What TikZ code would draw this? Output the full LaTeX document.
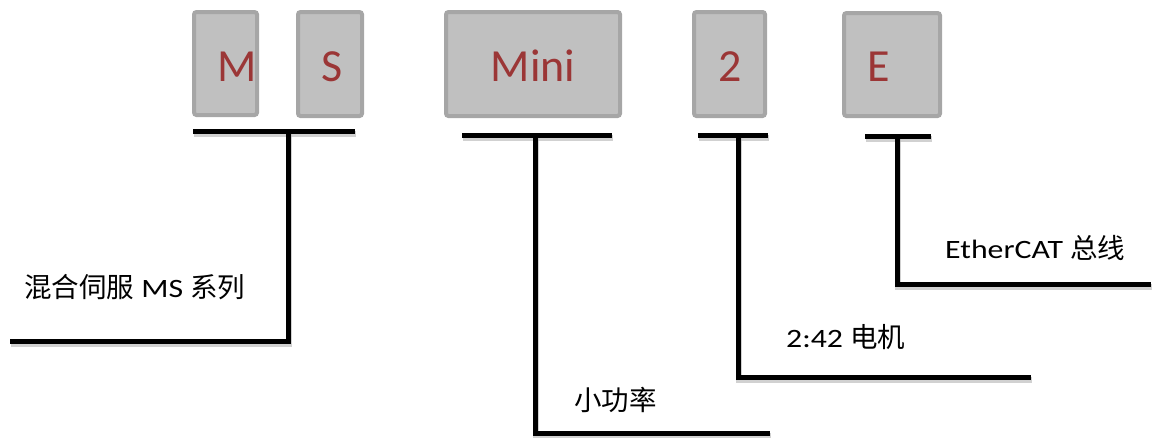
\documentclass[tikz,border=0pt]{standalone}
\usepackage{fontspec}
\setmainfont{Carlito}
\newfontfamily\lat{Carlito}[FakeStretch=1.2]
\newfontfamily\cjk{Noto Sans CJK SC}
\definecolor{boxfill}{HTML}{C0C0C0}
\definecolor{boxline}{HTML}{A6A6A6}
\definecolor{letterred}{HTML}{9B3636}
\newcommand{\cj}[1]{{\cjk\fontsize{27.5}{30}\selectfont #1}}
\begin{document}
\begin{tikzpicture}[x=1pt,y=-1pt,
  box/.style={draw=boxline, fill=boxfill, line width=4pt, rounded corners=2.5pt, inner sep=0pt},
  letter/.style={anchor=base, text=letterred, font=\fontsize{46}{50}\selectfont, inner sep=0pt},
  lbl/.style={anchor=base west, font=\lat\fontsize{26.5}{30}\selectfont, inner sep=0pt},
  lead/.style={line width=5pt, black, preaction={draw=black!30, line width=6pt, opacity=0.6, transform canvas={shift={(1.2pt,-2.8pt)}}}}]
\useasboundingbox (0,0) rectangle (1159,437);
% boxes
\node[box, minimum width=63pt, minimum height=103pt] (boxM) at (225.5,63.5) {};
\node[box, minimum width=64pt, minimum height=104pt] (boxS) at (330,64) {};
\node[box, minimum width=174pt, minimum height=104pt] (boxMini) at (533,64) {};
\node[box, minimum width=71pt, minimum height=104pt] (box2) at (729.5,64) {};
\node[box, minimum width=96pt, minimum height=103pt] (boxE) at (892,64.5) {};
% letters
\node[letter] (tM) at (237,81) {M};
\node[letter] (tS) at (332,81) {S};
\node[letter] (tMini) at (533,81) {Mini};
\node[letter] (t2) at (730,81) {2};
\node[letter] (tE) at (879,81) {E};
% bar and lead coordinates
\coordinate (msL) at (193,131);
\coordinate (msR) at (355,131);
\coordinate (msT) at (288,131);
\coordinate (msC) at (288,341);
\coordinate (msE) at (10,341);
\coordinate (miL) at (462,135);
\coordinate (miR) at (612,135);
\coordinate (miT) at (535,135);
\coordinate (miC) at (535,433);
\coordinate (miE) at (770,433);
\coordinate (twL) at (698,135);
\coordinate (twR) at (768,135);
\coordinate (twT) at (738,135);
\coordinate (twC) at (738,377);
\coordinate (twE) at (1031,377);
\coordinate (etL) at (865,136);
\coordinate (etR) at (931,136);
\coordinate (etT) at (897,136);
\coordinate (etC) at (897,284);
\coordinate (etE) at (1151,284);
% bars
\draw[lead] (msL) -- (msR);
\draw[lead] (miL) -- (miR);
\draw[lead] (twL) -- (twR);
\draw[lead] (etL) -- (etR);
% leads
\draw[lead] (msT) -- (msC) -- (msE);
\draw[lead] (miT) -- (miC) -- (miE);
\draw[lead] (twT) -- (twC) -- (twE);
\draw[lead] (etT) -- (etC) -- (etE);
% labels
\node[lbl] (lMS) at (24,297) {\cj{混合伺服} MS \cj{系列}};
\node[lbl] (lMini) at (574,410) {\cj{小功率}};
\node[lbl] (l2) at (786,347) {2:42 \cj{电机}};
\node[lbl] (lE) at (945,258) {EtherCAT \cj{总线}};
\end{tikzpicture}
\end{document}
